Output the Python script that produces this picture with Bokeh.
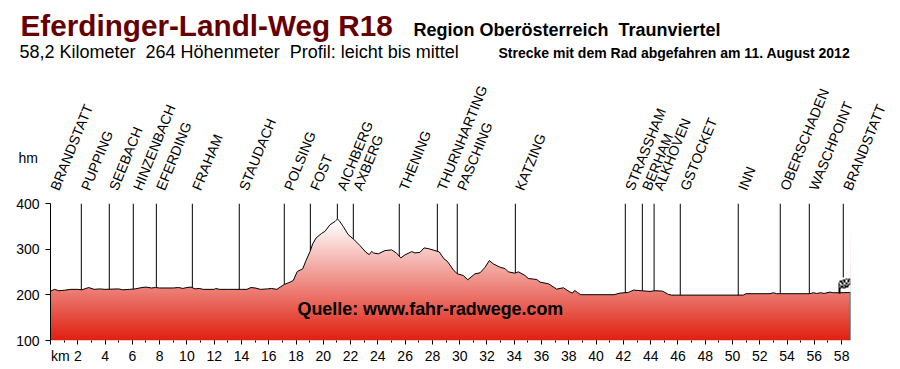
import numpy as np
from bokeh.plotting import figure
from bokeh.layouts import column
from bokeh.core.properties import value
from bokeh.models import Label, LabelSet, ColumnDataSource, FixedTicker
from bokeh.embed import file_html
from bokeh.resources import INLINE

profile_km = [0,0.3,0.6,1,1.5,2,2.3,2.6,2.8,3.2,3.6,4,5,5.3,5.8,6.2,6.7,7,7.4,7.7,8,9,9.4,9.7,10,10.3,10.6,10.9,11.2,12,12.1,12.4,13,14,14.4,14.7,15,15.4,15.9,16.2,16.6,16.83,
 17.14,17.56,17.80,18.09,18.49,18.73,19.03,19.22,19.47,19.88,20.12,20.49,20.86,21.03,21.17,21.47,21.83,22.2,22.69,23.13,23.37,23.55,23.67,24.03,24.52,25.01,25.38,25.68,25.99,26.48,26.72,27.09,27.38,27.7,28.19,28.5,28.85,29.09,29.53,29.82,30.26,30.59,31.12,31.49,31.86,32.17,32.46,32.96,33.32,33.56,34.05,34.3,34.79,35.03,35.65,35.89,36.5,37.11,37.6,38.09,38.28,38.43,38.62,38.87,40.29,41.32,41.75,42.36,42.73,43.34,43.95,44.32,44.88,45.3,45.55,50.79,50.99,52.75,53,53.24,55.68,55.92,56.17,56.47,56.71,57.15,57.39,57.88,58.65]
profile_hm = [208,212,209,210,212,212,211,214,216,212,213,212,213,211,212,213,216,217,215,216,215,215,216,214,216,217,213,214,212,212,214,212,212,212,212,216,215,212,213,214,212,216.8,
 222.7,227.7,231.5,251.1,257,275,295,311.5,324.5,334.6,339,353.5,360.7,366,362.3,349.2,331.7,322.4,307.8,293.1,288.1,295.3,291.8,289.7,296.9,298.4,291,281,287.5,294.7,291.8,293,302.7,301.2,296.9,294,278.8,273.5,254.8,246.1,242.4,233,246,248.2,260.4,275,267.9,260.4,257.6,250.4,247.4,250.4,242.4,235.8,233.6,227.8,224.3,212.5,215.5,206,203.8,209.7,205.3,200.3,200.3,200.3,203.8,205.3,210.3,209,207.5,209,208.1,200.9,199.4,199.4,202.5,202.5,204.6,202.5,202.5,204.6,203,204.6,203,206,204.6,204.6,205]

towns = ["BRANDSTATT","PUPPING","SEEBACH","HINZENBACH","EFERDING","FRAHAM","STAUDACH","POLSING","FOST","AICHBERG","AXBERG","THENING","THURNHARTING","PASCHING","KATZING","STRASSHAM","BERHAM","ALKHOVEN","GSTOCKET","INN","OBERSCHADEN","WASCHPOINT","BRANDSTATT"]
town_km = [0,2.26,4.31,6.07,7.76,10.4,13.84,17.14,19.05,21.03,22.2,25.57,28.36,29.82,34.08,42.14,43.39,44.25,46.17,50.42,53.5,55.63,58.12]
flag_top_hm = 238

y_ticks = [100,200,300,400]
x_major = list(range(0,60,2))
x_minor = list(range(0,59))

TITLE = "Eferdinger-Landl-Weg R18"
REGION = "Region Oberösterreich\u00a0\u00a0Traunviertel"
SUB = "58,2 Kilometer\u00a0\u00a0264 Höhenmeter\u00a0\u00a0Profil: leicht bis mittel"
RIDDEN = "Strecke mit dem Rad abgefahren am 11. August 2012"
SOURCE = "Quelle: www.fahr-radwege.com"

FLAG = [
"         ## ## ",
"      ###..##.#",
"   ###.##..##.#",
"  #..##..##...#",
"  #..##..##.###",
"  ##...##..##  ",
"  #.###.####   ",
"  ###.###      ",
"  ##           ",
"  ##           ",
"  ##           ",
"  ##           ",
]

FONT = "Liberation Sans"
XEND = 58.65
SPLIT = 194

# header: its frame fills the canvas, and its ranges are the picture's pixels
head = figure(width=900, height=SPLIT, x_range=(0, 900), y_range=(SPLIT, 0),
              output_backend="svg", toolbar_location=None,
              x_axis_location=None, y_axis_location=None,
              min_border=0, outline_line_color=None, frame_align=False,
              background_fill_color="white", border_fill_color="white")
head.grid.visible = False

p = figure(width=900, height=369 - SPLIT, x_range=(0, XEND), y_range=(100, 400),
           output_backend="svg", toolbar_location=None, frame_align=False,
           min_border_left=50, min_border_right=50, min_border_top=203 - SPLIT, min_border_bottom=29,
           background_fill_color="white", border_fill_color="white", outline_line_color=None)
p.grid.visible = False

def X(px):
    return (px - 50) / 800 * XEND
def Y(py):
    return 100 + (340 - py) / 137 * 300

km = np.array(profile_km, float)
hm = np.array(profile_hm, float)

# gradient, then white mask above the profile
t = np.linspace(0, 1, 300)[:, None]
t = np.clip(t / (260 / 300), 0, 1)
img = np.zeros((300, 1), dtype=np.uint32)
v = img.view(dtype=np.uint8).reshape((300, 1, 4))
v[:, :, 0] = (224 + 31 * t).astype(np.uint8)
v[:, :, 1] = (32 + 223 * t).astype(np.uint8)
v[:, :, 2] = (16 + 239 * t).astype(np.uint8)
v[:, :, 3] = 255
p.image_rgba(image=[img], x=0, y=100, dw=XEND, dh=300)
p.varea(x=km, y1=hm, y2=400, fill_color="white")

stops = np.interp(town_km, km, hm)
stops[-1] = flag_top_hm
p.segment(x0=town_km[1:], y0=[400] * (len(towns) - 1), x1=town_km[1:], y1=stops[1:],
          line_color="black", line_width=1)
p.line(km, hm, line_color="black", line_width=1)
p.segment(x0=[km[-1]], y0=[100], x1=[km[-1]], y1=[hm[-1]], line_color="#008080", line_width=1.5)

# finish flag
fa = np.zeros((len(FLAG), len(FLAG[0])), dtype=np.uint32)
fv = fa.view(dtype=np.uint8).reshape(fa.shape + (4,))
for r, row in enumerate(FLAG[::-1]):
    for c, ch in enumerate(row):
        if ch == "#":
            fv[r, c] = (0, 0, 0, 255)
        elif ch == ".":
            fv[r, c] = (255, 255, 255, 255)
p.image_rgba(image=[fa], x=X(836), y=Y(293), dw=X(851) - X(836), dh=Y(278) - Y(293))

# axes
ya = p.yaxis[0]
ya.ticker = FixedTicker(ticks=y_ticks)
ya.axis_line_color = "black"
ya.major_tick_line_color = "black"
ya.major_tick_in = 0
ya.major_tick_out = 5
ya.minor_tick_line_color = None
ya.major_label_text_font = FONT
ya.major_label_text_font_size = "14px"
ya.major_label_text_color = "black"
ya.major_label_standoff = 6

xa = p.xaxis[0]
xa.ticker = FixedTicker(ticks=x_major, minor_ticks=x_minor)
xa.axis_line_color = None
xa.major_tick_line_color = "black"
xa.minor_tick_line_color = "black"
xa.major_tick_in = 0
xa.major_tick_out = 4
xa.minor_tick_in = 0
xa.minor_tick_out = 2
xa.major_label_overrides = {0: "\u00a0\u00a0\u00a0\u00a0\u00a0km"}
xa.major_label_text_font = FONT
xa.major_label_text_font_size = "14px"
xa.major_label_text_color = "black"
xa.major_label_standoff = 3

def label(fig, text, x, y, size, bold=False, color="black"):
    fig.add_layout(Label(x=x, y=y, text=text, text_font=FONT, text_font_size=size,
                         text_font_style="bold" if bold else "normal", text_color=color,
                         text_baseline="alphabetic", text_align="left"))

label(head, TITLE, 20, 25, "29.7px", True, "#660000")
label(head, REGION, 413, 29, "18px", True)
label(head, SUB, 19, 51, "18px")
label(head, RIDDEN, 498, 52.5, "14px", True)
label(head, "hm", 18, 157.5, "14px")
label(p, SOURCE, X(297), Y(308), "17.9px", True)

KM_PX = 800 / XEND
src = ColumnDataSource(dict(x=[50 + k * KM_PX for k in town_km], y=[203] * len(towns), t=towns))
head.add_layout(LabelSet(x="x", y="y", text="t", source=src, angle=68, angle_units="deg",
                         x_offset=8.5, y_offset=12, text_font=value(FONT), text_font_size="14px",
                         text_color="black", text_baseline="alphabetic", text_align="left"))

open("out.html", "w").write(file_html(column(head, p, spacing=0), INLINE))
